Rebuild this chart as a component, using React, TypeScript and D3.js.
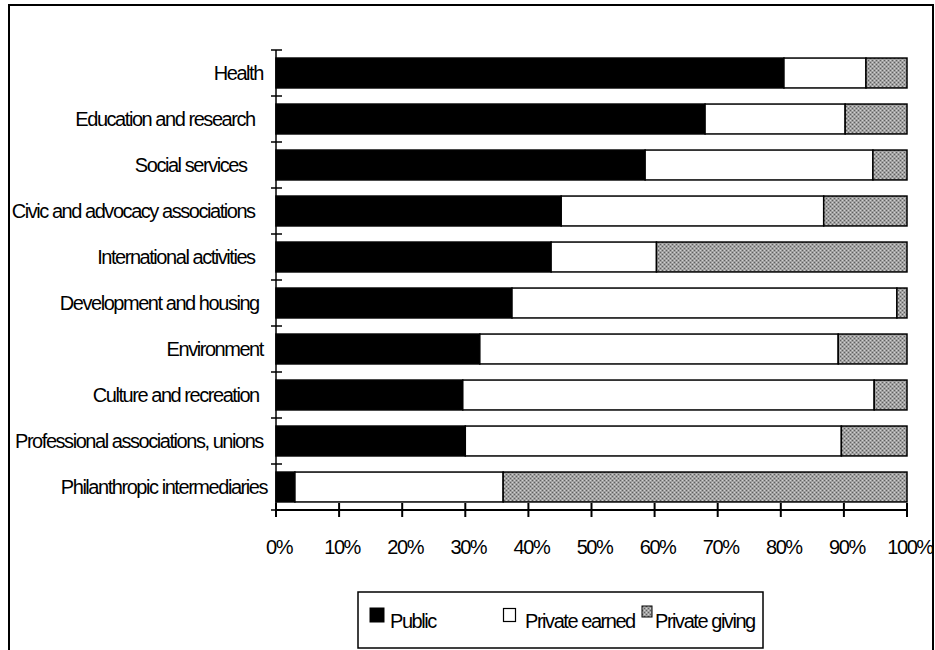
import React from "react";
import * as d3 from "d3";

const categories = [
  "Health ",
  "Education and research   ",
  "Social services     ",
  "Civic and advocacy associations   ",
  "International activities   ",
  "Development and housing  ",
  "Environment ",
  "Culture and recreation  ",
  "Professional associations, unions ",
  "Philanthropic intermediaries",
];
const publicShare = [80.5, 68.0, 58.5, 45.2, 43.6, 37.4, 32.3, 29.6, 30.0, 3.0];
const earnedShare = [13.0, 22.2, 36.1, 41.6, 16.7, 61.0, 56.8, 65.2, 59.6, 33.0];
const givingShare = [6.5, 9.8, 5.4, 13.2, 39.7, 1.6, 10.9, 5.2, 10.4, 64.0];
const seriesNames = ["Public", "Private earned", "Private giving"];
const xTicks = [0, 10, 20, 30, 40, 50, 60, 70, 80, 90, 100];

const W = 935;
const H = 650;
const FONT = "'Liberation Sans', Arial, sans-serif";
const FS = 20;
const LS = -1.45;

export default function App() {
  const x = d3.scaleLinear().domain([0, 100]).range([276, 907]);
  const y = d3
    .scaleBand<string>()
    .domain(categories)
    .range([50, 510])
    .paddingInner(0.35)
    .paddingOuter(0.175);

  const rows = categories.map((c, i) => ({
    cat: c,
    pub: publicShare[i],
    earned: earnedShare[i],
    giving: givingShare[i],
  }));
  const stack = d3.stack<any>().keys(["pub", "earned", "giving"]);
  const layers = stack(rows);
  const fills = ["#000", "#fff", "url(#giveFill)"];

  const step = y.step();
  const [r0, r1] = y.range();
  const boundaries = d3.range(categories.length + 1).map((i) => r0 + i * step);

  return (
    <svg
      width={W}
      height={H}
      style={{ position: "absolute", left: 0, top: 0, background: "#fff" }}
      fontFamily={FONT}
    >
      <defs>
        <pattern id="giveFill" width="4" height="4" patternUnits="userSpaceOnUse">
          <rect width="4" height="4" fill="#a0a0a0" />
          <rect x="0" y="0" width="1" height="1" fill="#606060" />
          <rect x="2" y="2" width="1" height="1" fill="#606060" />
          <rect x="2" y="0" width="1" height="1" fill="#d0d0d0" />
          <rect x="0" y="2" width="1" height="1" fill="#d0d0d0" />
        </pattern>
        <clipPath id="frameClip">
          <rect x={9} y={5} width={924} height={660} />
        </clipPath>
      </defs>

      <g clipPath="url(#frameClip)">
        {/* bars */}
        {layers.map((layer, li) =>
          layer.map((d, i) => (
            <rect
              key={li + "-" + i}
              x={x(d[0])}
              y={y(categories[i])}
              width={x(d[1]) - x(d[0])}
              height={y.bandwidth()}
              fill={fills[li]}
              stroke="#000"
              strokeWidth={1.5}
            />
          ))
        )}

        {/* y axis */}
        <line x1={x(0)} x2={x(0)} y1={r0} y2={r1} stroke="#000" strokeWidth={1.5} />
        {boundaries.map((b, i) => (
          <line key={"yt" + i} x1={x(0) - 5} x2={x(0) + 6} y1={b} y2={b} stroke="#000" strokeWidth={1.5} />
        ))}
        {categories.map((c) => (
          <text
            key={"lbl" + c}
            x={267}
            y={(y(c) as number) + y.bandwidth() / 2 + 7}
            textAnchor="end"
            fontSize={FS}
            letterSpacing={LS}
            style={{ whiteSpace: "pre" }}
          >
            {c}
          </text>
        ))}

        {/* x axis */}
        <line x1={x(0)} x2={x(100)} y1={r1} y2={r1} stroke="#000" strokeWidth={2} />
        {xTicks.map((t) => (
          <g key={"xt" + t}>
            <line x1={x(t)} x2={x(t)} y1={r1 - 7} y2={r1 + 7} stroke="#000" strokeWidth={2} />
            <text x={x(t) + 3} y={554} textAnchor="middle" fontSize={FS} letterSpacing={LS}>
              {t + "%"}
            </text>
          </g>
        ))}

        {/* legend */}
        <rect x={358} y={592} width={405} height={56} fill="#fff" stroke="#000" strokeWidth={1.5} />
        <rect x={370} y={608} width={14} height={14} fill="#000" stroke="#000" strokeWidth={1} />
        <text x={390} y={628} fontSize={FS} letterSpacing={LS}>{seriesNames[0]}</text>
        <rect x={503.5} y={608.5} width={12} height={13} fill="#fff" stroke="#000" strokeWidth={1.2} />
        <text x={525} y={628} fontSize={FS} letterSpacing={LS}>{seriesNames[1]}</text>
        <rect x={642} y={606} width={10} height={11} fill="url(#giveFill)" stroke="#000" strokeWidth={1} />
        <text x={655} y={628} fontSize={FS} letterSpacing={LS}>{seriesNames[2]}</text>
      </g>
      <rect x={9} y={5} width={924} height={660} fill="none" stroke="#000" strokeWidth={2} />
    </svg>
  );
}
